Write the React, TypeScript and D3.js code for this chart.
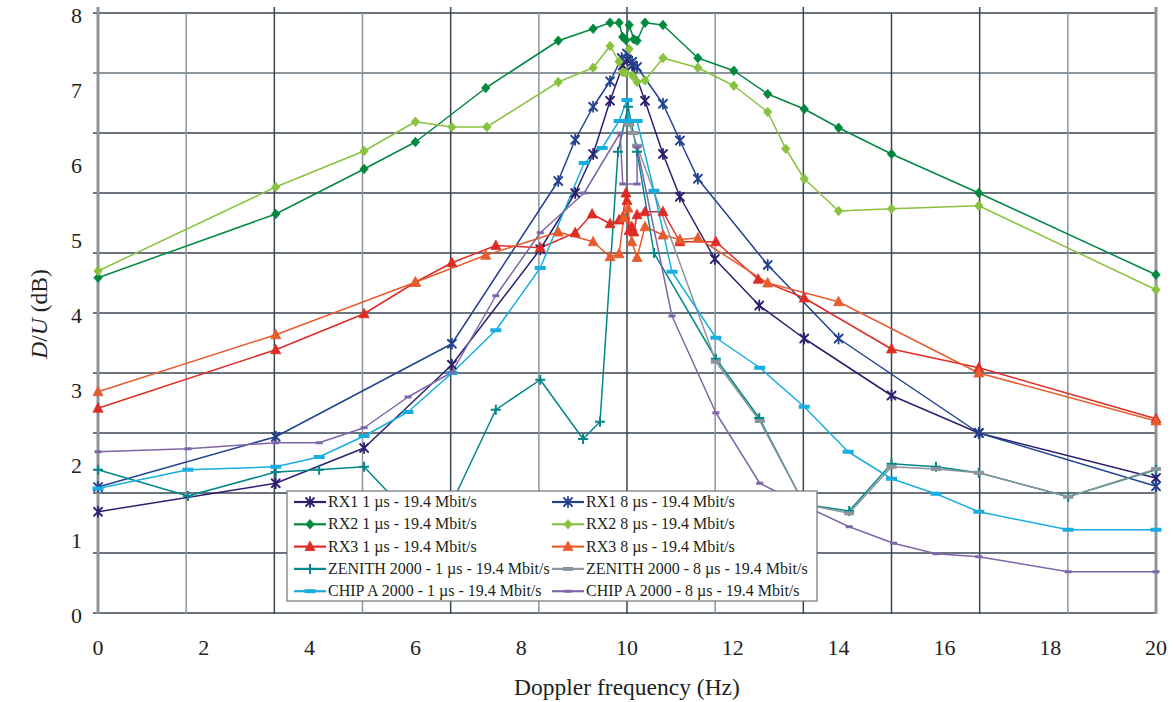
import React from "react";
import * as d3 from "d3";

type Pt = [number, number];

// Doppler frequency (Hz), D/U (dB)
const rx1_1us: Pt[] = [[0,1.35],[3.36,1.73],[5.03,2.2],[6.69,3.31],[8.36,4.85],[9.02,5.6],[9.36,6.12],[9.68,6.83],[9.92,7.3],[10.0,7.38],[10.1,7.3],[10.34,6.83],[10.68,6.12],[11.0,5.55],[11.66,4.72],[12.5,4.1],[13.35,3.66],[15.0,2.9],[16.65,2.4],[20,1.8]];
const rx1_8us: Pt[] = [[0,1.68],[3.36,2.35],[6.69,3.59],[8.7,5.76],[9.02,6.31],[9.36,6.75],[9.68,7.09],[9.9,7.4],[10.0,7.46],[10.1,7.35],[10.19,7.28],[10.68,6.79],[11.0,6.3],[11.34,5.79],[12.66,4.64],[14.0,3.66],[16.65,2.4],[20,1.69]];
const rx2_1us: Pt[] = [[0,4.47],[3.36,5.32],[5.03,5.92],[6.0,6.28],[7.33,7.0],[8.7,7.63],[9.36,7.79],[9.68,7.87],[9.85,7.87],[9.92,7.68],[9.98,7.64],[10.04,7.84],[10.13,7.65],[10.19,7.63],[10.34,7.87],[10.68,7.84],[11.34,7.4],[12.02,7.23],[12.66,6.92],[13.35,6.72],[14.0,6.47],[15.0,6.12],[16.65,5.6],[20,4.51]];
const rx2_8us: Pt[] = [[0,4.56],[3.36,5.68],[5.03,6.16],[6.0,6.55],[6.69,6.48],[7.35,6.48],[8.7,7.08],[9.36,7.27],[9.68,7.56],[9.85,7.35],[9.92,7.21],[9.98,7.2],[10.04,7.52],[10.11,7.16],[10.19,7.08],[10.34,7.1],[10.68,7.4],[11.34,7.27],[12.02,7.03],[12.66,6.68],[13.0,6.19],[13.35,5.79],[14.0,5.36],[15.0,5.39],[16.65,5.43],[20,4.31]];
const rx3_1us: Pt[] = [[0,2.73],[3.36,3.51],[5.03,3.99],[6.0,4.41],[6.69,4.67],[7.52,4.9],[8.36,4.87],[9.02,5.07],[9.34,5.32],[9.68,5.19],[9.85,5.24],[9.92,5.28],[9.98,5.6],[10.0,5.5],[10.04,5.1],[10.09,5.15],[10.13,5.08],[10.19,5.31],[10.34,5.35],[10.68,5.35],[11.0,4.95],[11.68,4.95],[12.48,4.45],[13.35,4.2],[15.0,3.52],[16.65,3.27],[20,2.59]];
const rx3_8us: Pt[] = [[0,2.95],[3.36,3.71],[6.0,4.41],[7.33,4.77],[8.7,5.08],[9.36,4.95],[9.68,4.75],[9.85,4.79],[9.94,5.27],[10.02,5.4],[10.09,4.95],[10.19,4.74],[10.34,5.15],[10.68,5.04],[11.0,4.98],[11.34,5.0],[12.66,4.4],[14.0,4.15],[16.65,3.2],[20,2.56]];
const zenith_1us: Pt[] = [[0,1.91],[1.7,1.56],[3.36,1.88],[4.18,1.91],[5.03,1.95],[5.86,1.33],[6.69,1.47],[7.52,2.71],[8.36,3.11],[9.17,2.32],[9.49,2.55],[9.83,6.15],[10.02,6.75],[10.19,6.15],[10.51,4.8],[11.68,3.39],[12.5,2.6],[13.35,1.45],[14.2,1.36],[15.0,1.99],[15.84,1.95],[16.65,1.87],[18.34,1.55],[20,1.91]];
const zenith_8us: Pt[] = [[10.04,6.51],[10.11,6.4],[10.19,6.23],[11.68,3.35],[12.51,2.56],[13.35,1.45],[14.2,1.33],[15.0,1.95],[15.84,1.92],[16.65,1.87],[18.34,1.55],[20,1.92]];
const chipA_1us: Pt[] = [[0,1.66],[1.7,1.91],[3.36,1.95],[4.18,2.08],[5.03,2.36],[5.86,2.68],[6.69,3.2],[7.52,3.77],[8.36,4.6],[9.19,6.0],[9.53,6.2],[9.85,6.56],[10.0,6.84],[10.04,6.56],[10.11,6.56],[10.19,6.56],[10.51,5.63],[10.85,4.55],[11.68,3.67],[12.51,3.27],[13.35,2.75],[14.18,2.15],[15.0,1.79],[15.84,1.59],[16.65,1.35],[18.34,1.11],[20,1.11]];
const chipA_8us: Pt[] = [[0,2.15],[1.7,2.19],[3.36,2.27],[4.18,2.27],[5.03,2.47],[5.86,2.88],[6.69,3.21],[7.52,4.23],[8.36,5.07],[9.19,5.6],[9.87,6.4],[9.92,5.72],[10.19,5.72],[10.19,6.21],[10.85,3.96],[11.68,2.67],[12.51,1.73],[13.35,1.43],[14.2,1.15],[15.04,0.93],[15.84,0.79],[16.65,0.75],[18.34,0.55],[20,0.55]];

const seriesNames = [
  "RX1 1 µs - 19.4 Mbit/s", "RX1 8 µs - 19.4 Mbit/s",
  "RX2 1 µs - 19.4 Mbit/s", "RX2 8 µs - 19.4 Mbit/s",
  "RX3 1 µs - 19.4 Mbit/s", "RX3 8 µs - 19.4 Mbit/s",
  "ZENITH 2000 - 1 µs - 19.4 Mbit/s", "ZENITH 2000 - 8 µs - 19.4 Mbit/s",
  "CHIP A 2000 - 1 µs - 19.4 Mbit/s", "CHIP A 2000 - 8 µs - 19.4 Mbit/s",
];
const seriesData = [rx1_1us, rx1_8us, rx2_1us, rx2_8us, rx3_1us, rx3_8us, zenith_1us, zenith_8us, chipA_1us, chipA_8us];
const seriesColors = ["#2d1f6f", "#22418f", "#00883f", "#88c23e", "#de2c25", "#e65c2c", "#00878a", "#8b959b", "#19aee0", "#7f66a7"];
const seriesMarkers = ["star", "star", "diamond", "diamond", "triangle", "triangle", "plus", "dashS", "dashL", "dashT"];

const xTicks = [0, 2, 4, 6, 8, 10, 12, 14, 16, 18, 20];
const yTicks = [0, 1, 2, 3, 4, 5, 6, 7, 8];

const W = 1174, H = 702;
const L = 98, R = 1156, T = 13, B = 613;
const FONT = '"Liberation Serif", "Times New Roman", serif';

function Marker({ kind, color, x, y }: { kind: string; color: string; x: number; y: number }) {
  const t = `translate(${x},${y})`;
  switch (kind) {
    case "star":
      return (
        <g transform={t} stroke={color} strokeWidth={1.8} strokeLinecap="round">
          <line x1={-4} y1={-4} x2={4} y2={4} />
          <line x1={-4} y1={4} x2={4} y2={-4} />
          <line x1={0} y1={-5} x2={0} y2={5} />
        </g>
      );
    case "diamond":
      return <path transform={t} d="M0,-4.8L4.2,0L0,4.8L-4.2,0Z" fill={color} stroke={color} strokeWidth={0.8} />;
    case "triangle":
      return <path transform={t} d="M0,-5.5L5,4L-5,4Z" fill={color} stroke={color} strokeWidth={0.8} />;
    case "plus":
      return (
        <g transform={t} stroke={color} strokeWidth={2}>
          <line x1={-5} y1={0} x2={5} y2={0} />
          <line x1={0} y1={-5} x2={0} y2={5} />
        </g>
      );
    case "dashS":
      return <rect x={x - 5} y={y - 2} width={10} height={4} fill={color} />;
    case "dashL":
      return <rect x={x - 5.5} y={y - 2} width={11} height={4} fill={color} />;
    case "dashT":
      return <rect x={x - 3.5} y={y - 1.5} width={7} height={3} fill={color} />;
  }
  return null;
}

export default function App() {
  const x = d3.scaleLinear().domain([0, 20]).range([L, R]);
  const y = d3.scaleLinear().domain([0, 8]).range([B, T]);
  const line = d3.line<Pt>().x((d) => x(d[0])).y((d) => y(d[1]));

  const dark = "#3a4650", gray = "#8c959c";
  const vCols = [gray, gray, dark, gray, dark, gray, dark, gray, dark, dark, dark, gray, gray];
  const hCols = [dark, gray, dark, dark, dark, dark, dark, dark, dark, dark, dark];
  const vGrid = d3.range(13).map((i) => (i * 20) / 12);
  const hGrid = d3.range(11).map((i) => 8 - (i * 8) / 10);

  const legX = 287, legY = 491, legW = 530, legH = 110;
  const rowH = 22.3;

  return (
    <svg width={W} height={H} style={{ position: "absolute", left: 0, top: 0, background: "#fff" }} fontFamily={FONT}>
      <rect width={W} height={H} fill="#fff" />
      {/* grid */}
      {hGrid.map((v, i) => (
        <line key={"h" + i} x1={L - 5} x2={R} y1={y(v)} y2={y(v)} stroke={hCols[i]} strokeWidth={i === 1 ? 2 : 1.5} />
      ))}
      {vGrid.map((v, i) => (
        <line key={"v" + i} x1={x(v)} x2={x(v)} y1={i % 2 === 0 ? T - 6 : T} y2={B + 1}
          stroke={vCols[i]} strokeWidth={i === 0 || i === 12 ? 3 : 1.5} />
      ))}
      {/* series lines */}
      {seriesData.map((d, i) => (
        <path key={"l" + i} d={line(d) || ""} fill="none" stroke={seriesColors[i]} strokeWidth={1.5} strokeLinejoin="round" />
      ))}
      {seriesData.map((d, i) => (
        <g key={"m" + i}>
          {d.map((p, j) => (
            <Marker key={j} kind={seriesMarkers[i]} color={seriesColors[i]} x={x(p[0])} y={y(p[1])} />
          ))}
        </g>
      ))}
      {/* axes labels */}
      {xTicks.map((t) => (
        <text key={"xt" + t} x={x(t)} y={655} fontSize={22} textAnchor="middle" fill="#231f20">{t}</text>
      ))}
      {yTicks.map((t) => (
        <text key={"yt" + t} x={82} y={y(t) + 10} fontSize={22} textAnchor="end" fill="#231f20">{t}</text>
      ))}
      <text x={627} y={695} fontSize={23.5} textAnchor="middle" fill="#231f20">Doppler frequency (Hz)</text>
      <text transform="translate(47,314) rotate(-90)" fontSize={23.5} textAnchor="middle" fill="#231f20">
        <tspan fontStyle="italic">D</tspan>/<tspan fontStyle="italic">U</tspan> (dB)
      </text>
      {/* legend */}
      <rect x={legX} y={legY} width={legW} height={legH} fill="#fff" stroke="#6d757b" strokeWidth={1.2} />
      {seriesNames.map((name, i) => {
        const col = i % 2, row = Math.floor(i / 2);
        const lx = col === 0 ? 294 : 552;
        const cy = legY + 11 + row * rowH;
        return (
          <g key={"lg" + i}>
            <line x1={lx} x2={lx + 32} y1={cy} y2={cy} stroke={seriesColors[i]} strokeWidth={2.2} />
            <Marker kind={seriesMarkers[i]} color={seriesColors[i]} x={lx + 16} y={cy} />
            <text x={lx + 34} y={cy + 5} fontSize={16} fill="#231f20">{name}</text>
          </g>
        );
      })}
    </svg>
  );
}
